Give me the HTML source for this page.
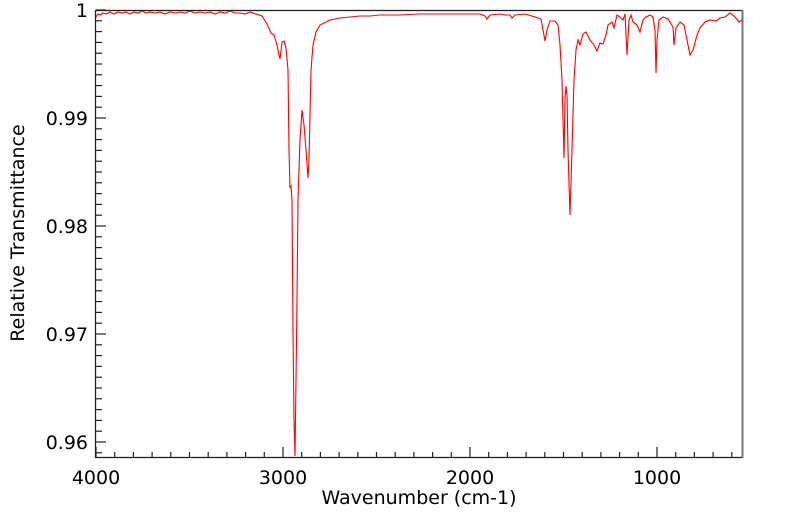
<!DOCTYPE html>
<html><head><meta charset="utf-8"><style>
body{margin:0;background:#fff}
svg text{font-family:"DejaVu Sans","Liberation Sans",sans-serif;font-size:19px;fill:#000}
</style></head><body>
<svg width="799" height="516" xmlns="http://www.w3.org/2000/svg">
<g id="ticks" stroke="#222" stroke-width="1.2"></g>
<polyline fill="none" stroke="#ff0000" stroke-width="1.1" points="96,17 98,14 100,15 103,13 106,14 110,12 114,14 118,12 122,13 126,12 130,14 134,12 138,13 142,11 146,13 150,12 155,13 160,12 165,14 170,12 175,13 180,12 185,13 190,11 195,13 200,12 205,13 210,12 215,14 220,12 225,13 230,11 235,13 240,13 245,14 250,12 256,14 262,16 267,24 271,33 274,35 277,45 279,55 280,59 282,42 284,41 286,48 288,70 289,150 290,188 291,186 292,200 293,330 294,420 295,456 296,380 297,300 298,200 300,140 302,110 304,125 306,150 308,178 309,160 311,70 313,45 316,32 320,25 330,20 340,18 350,17 360,16 370,16 380,15 400,15 420,14 440,14 460,14 480,14 485,16 487,19 490,15 500,14 505,15 510,15 512,18 515,15 525,14 535,17 541,19 543,30 545,41 547,30 550,21 555,21 558,25 560,45 562,80 564,158 565,100 566,86 567,95 568,150 570,215 572,150 574,80 576,50 578,40 580,45 583,34 586,32 590,40 594,45 597,51 600,43 603,44 606,35 608,25 612,22 614,28 617,15 620,17 623,20 625,14 627,55 629,20 631,15 633,22 637,25 640,32 643,20 646,17 650,15 653,17 655,30 656,73 657,40 659,20 663,17 668,19 673,27 674,45 676,28 680,22 684,25 687,40 690,55 693,50 697,35 700,28 705,22 710,20 716,21 720,18 725,17 730,13 735,17 739,22 742,20"/>
<rect x="95.5" y="10.5" width="647" height="447" fill="none" stroke="#222" stroke-width="1.3"/>
<line x1="742.5" y1="10" x2="742.5" y2="458" stroke="#777" stroke-width="2"/>
<text x="96" y="484" text-anchor="middle">4000</text>
<text x="283" y="484" text-anchor="middle">3000</text>
<text x="470" y="484" text-anchor="middle">2000</text>
<text x="657" y="484" text-anchor="middle">1000</text>
<text x="88" y="17" text-anchor="end">1</text>
<text x="88" y="125" text-anchor="end">0.99</text>
<text x="88" y="233" text-anchor="end">0.98</text>
<text x="88" y="341" text-anchor="end">0.97</text>
<text x="88" y="449" text-anchor="end">0.96</text>
<text x="419" y="504" text-anchor="middle">Wavenumber (cm-1)</text>
<text transform="translate(24,233) rotate(-90)" text-anchor="middle">Relative Transmittance</text>
</svg>
<script>
var g=document.getElementById('ticks'),s='';
for(var w=4000;w>=600;w-=100){var x=96+(4000-w)*0.187;var h=(w%1000==0)?10:5;s+='<line x1="'+x+'" y1="457" x2="'+x+'" y2="'+(457-h)+'"/>';}
for(var i=0;i<=44;i++){var y=10+i*10.8;if(y>457)break;var h=(i%10==0)?10:6;s+='<line x1="96" y1="'+y+'" x2="'+(96+h)+'" y2="'+y+'"/>';}
g.innerHTML=s;
</script>
</body></html>
